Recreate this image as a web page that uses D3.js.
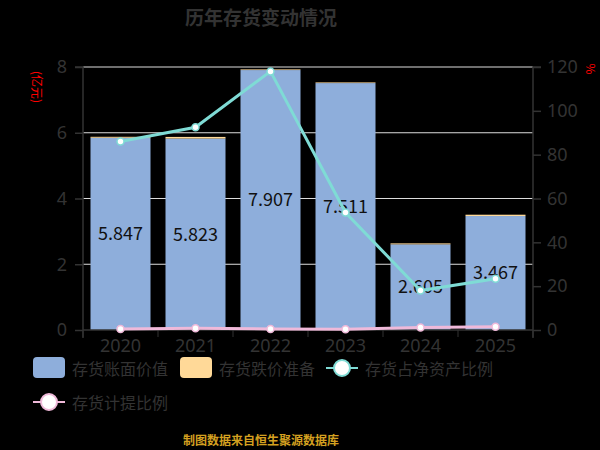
<!DOCTYPE html>
<html>
<head>
<meta charset="utf-8">
<script src="https://cdn.jsdelivr.net/npm/d3@7"></script>
<style>
  body { margin: 0; background: #000; }
  svg { display: block; font-family: "Noto Sans CJK SC", "Noto Sans", sans-serif; }
</style>
</head>
<body>
<div id="chart"></div>
<script>
// data
const years = ["2020", "2021", "2022", "2023", "2024", "2025"];
const bookValue = [5.847, 5.823, 7.907, 7.511, 2.605, 3.467];   // 存货账面价值 (亿元)
const reserve = [0.03, 0.05, 0.02, 0.02, 0.03, 0.04];           // 存货跌价准备 (亿元)
const netAssetRatio = [86, 92.5, 118, 53.6, 18, 23.4];          // 存货占净资产比例 (%)
const provisionRatio = [0.5, 0.8, 0.5, 0.3, 1.1, 1.5];          // 存货计提比例 (%)
const leftTicks = [0, 2, 4, 6, 8];
const rightTicks = [0, 20, 40, 60, 80, 100, 120];

const width = 600, height = 450;
const margin = { left: 83, right: 67, top: 67, bottom: 120 };

const colBlue = "#8eaedb", colOrange = "#ffd998", colCyan = "#7fdbd5", colPink = "#efb9d9";
const axisColor = "#333", textColor = "#333";

const svg = d3.select("#chart").append("svg")
  .attr("width", width).attr("height", height);

svg.append("rect").attr("width", width).attr("height", height).attr("fill", "#000");

const x = d3.scaleBand().domain(years).range([margin.left, width - margin.right]).paddingInner(0.2).paddingOuter(0.1);
const xb = d3.scaleBand().domain(years).range([margin.left, width - margin.right]);
const y = d3.scaleLinear().domain([0, 8]).range([height - margin.bottom - 0, margin.top]);
const y2 = d3.scaleLinear().domain([0, 120]).range([height - margin.bottom, margin.top]);

// gridlines
svg.append("g").selectAll("line")
  .data(leftTicks.filter(d => d > 0))
  .enter().append("line")
  .attr("x1", margin.left).attr("x2", width - margin.right)
  .attr("y1", d => y(d)).attr("y2", d => y(d))
  .attr("stroke", "#ddd").attr("stroke-width", 1);

// stacked bars
const stackData = years.map((yr, i) => ({ year: yr, book: bookValue[i], res: reserve[i] }));
svg.append("g").selectAll("rect")
  .data(stackData).enter().append("rect")
  .attr("x", d => x(d.year)).attr("width", x.bandwidth())
  .attr("y", d => y(d.book)).attr("height", d => y(0) - y(d.book))
  .attr("fill", colBlue);
svg.append("g").selectAll("rect")
  .data(stackData).enter().append("rect")
  .attr("x", d => x(d.year)).attr("width", x.bandwidth())
  .attr("y", d => y(d.book + d.res)).attr("height", d => y(d.book) - y(d.book + d.res))
  .attr("fill", colOrange);

// bar labels
svg.append("g").selectAll("text")
  .data(stackData).enter().append("text")
  .attr("x", d => x(d.year) + x.bandwidth() / 2)
  .attr("y", d => (y(0) + y(d.book)) / 2)
  .attr("dy", "0.35em")
  .attr("text-anchor", "middle")
  .attr("font-size", 18).attr("fill", "#111")
  .text(d => d.book.toFixed(3));

// left axis
const gl = svg.append("g").attr("transform", `translate(${margin.left},0)`)
  .call(d3.axisLeft(y).tickValues(leftTicks).tickSize(8).tickPadding(8));
// right axis
const gr = svg.append("g").attr("transform", `translate(${width - margin.right},0)`)
  .call(d3.axisRight(y2).tickValues(rightTicks).tickSize(8).tickPadding(6));
// bottom axis
const gb = svg.append("g").attr("transform", `translate(0,${y(0)})`)
  .call(d3.axisBottom(x).tickSize(0).tickPadding(9));
// band boundary ticks
gb.selectAll(".bt").data(years.concat(["end"])).enter().append("line")
  .attr("x1", (d, i) => margin.left + i * xb.bandwidth())
  .attr("x2", (d, i) => margin.left + i * xb.bandwidth())
  .attr("y1", 0).attr("y2", 7)
  .attr("stroke", axisColor);

[gl, gr, gb].forEach(g => {
  g.select(".domain").attr("stroke", axisColor).attr("stroke-width", 1.5);
  g.selectAll(".tick line").attr("stroke", axisColor).attr("stroke-width", 1.5);
  g.selectAll("text").attr("fill", textColor).attr("font-size", 18)
    .attr("font-family", "Noto Sans, sans-serif");
});
gl.select(".domain").attr("d", `M-8,${y(8)}H0V${y(0) + 8}`);
gr.select(".domain").attr("d", `M8,${y2(120)}H0V${y2(0) + 8}`);
gb.select(".domain").attr("d", `M${margin.left},0H${width - margin.right}`);

// lines
const lineFor = (vals) => d3.line()
  .x((d, i) => xb(years[i]) + xb.bandwidth() / 2)
  .y(d => y2(d))(vals);

svg.append("path").attr("d", lineFor(provisionRatio))
  .attr("fill", "none").attr("stroke", colPink).attr("stroke-width", 3);
svg.append("g").selectAll("circle").data(provisionRatio).enter().append("circle")
  .attr("cx", (d, i) => xb(years[i]) + xb.bandwidth() / 2)
  .attr("cy", d => y2(d)).attr("r", 3.5)
  .attr("fill", "#fff").attr("stroke", colPink).attr("stroke-width", 1.5);

svg.append("path").attr("d", lineFor(netAssetRatio))
  .attr("fill", "none").attr("stroke", colCyan).attr("stroke-width", 3);
svg.append("g").selectAll("circle").data(netAssetRatio).enter().append("circle")
  .attr("cx", (d, i) => xb(years[i]) + xb.bandwidth() / 2)
  .attr("cy", d => y2(d)).attr("r", 3.5)
  .attr("fill", "#fff").attr("stroke", colCyan).attr("stroke-width", 1.5);

// title
svg.append("text").attr("x", 261).attr("y", 25).attr("text-anchor", "middle")
  .attr("font-size", 19).attr("font-weight", "bold").attr("fill", textColor)
  .text("历年存货变动情况");

// unit labels
svg.append("text").attr("transform", "translate(36,87) rotate(90)")
  .attr("text-anchor", "middle").attr("dy", "0.35em").attr("font-size", 12).attr("fill", "#f00")
  .text("(亿元)");
svg.append("text").attr("transform", "translate(590,69) rotate(90)")
  .attr("text-anchor", "middle").attr("dy", "0.35em").attr("font-size", 12).attr("fill", "#f00")
  .text("%");

// legend
const legend = [
  { name: "存货账面价值", type: "rect", color: colBlue, x: 33, y: 368 },
  { name: "存货跌价准备", type: "rect", color: colOrange, x: 180, y: 368 },
  { name: "存货占净资产比例", type: "line", color: colCyan, x: 326, y: 368 },
  { name: "存货计提比例", type: "line", color: colPink, x: 33, y: 402 }
];
const lg = svg.append("g").selectAll("g").data(legend).enter().append("g")
  .attr("transform", d => `translate(${d.x},${d.y})`);
lg.filter(d => d.type === "rect").append("rect")
  .attr("x", 0).attr("y", -11).attr("width", 32).attr("height", 21).attr("rx", 4)
  .attr("fill", d => d.color);
lg.filter(d => d.type === "line").append("line")
  .attr("x1", 0).attr("x2", 32).attr("y1", 0).attr("y2", 0)
  .attr("stroke", d => d.color).attr("stroke-width", 2);
lg.filter(d => d.type === "line").append("circle")
  .attr("cx", 16).attr("cy", 0).attr("r", 8)
  .attr("fill", "#fff").attr("stroke", d => d.color).attr("stroke-width", 2);
lg.append("text").attr("x", 39).attr("y", 1).attr("dy", "0.35em")
  .attr("font-size", 16).attr("fill", textColor)
  .text(d => d.name);

// footer
svg.append("text").attr("x", 261).attr("y", 445).attr("text-anchor", "middle")
  .attr("font-size", 12).attr("font-weight", "bold").attr("fill", "#d4a020")
  .text("制图数据来自恒生聚源数据库");
</script>
</body>
</html>
